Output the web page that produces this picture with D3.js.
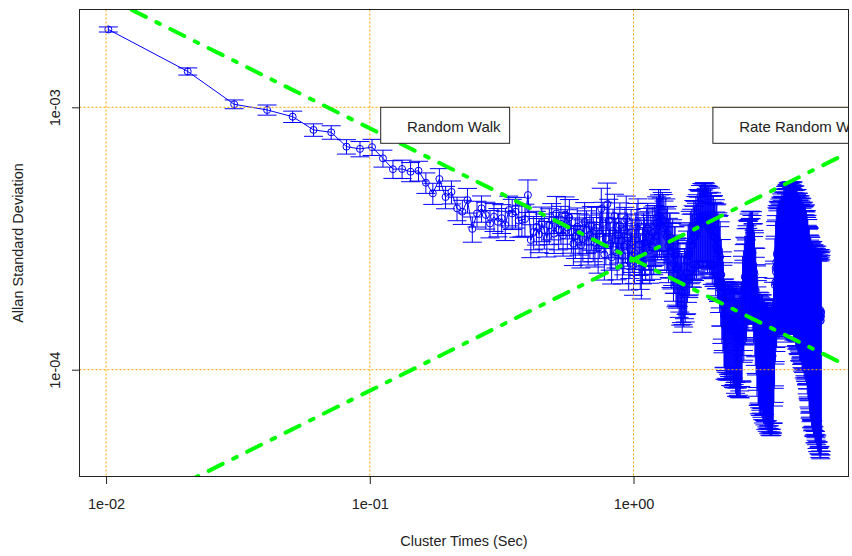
<!DOCTYPE html>
<html>
<head>
<meta charset="utf-8">
<script src="https://cdn.jsdelivr.net/npm/d3@7"></script>
<style>
  html, body { margin: 0; padding: 0; background: #fff; }
  svg { display: block; font-family: "Liberation Sans", Arial, Helvetica, sans-serif; }
</style>
</head>
<body>
<svg id="chart" width="852" height="556"></svg>
<script>
// Allan deviation of an inertial sensor record against cluster time.
const tau0 = 0.0102;       // sample period in seconds; cluster time = n * tau0
const sampleCount = 1012;  // number of samples in the record

// Allan deviation for cluster sizes n = 1, 2, 3, ... in units of 1e-4
const adevShort = [ // n = 1..40
  19.8, 13.7, 10.27, 9.77, 9.21, 8.20, 8.03, 7.08, 6.94, 7.05,
  6.39, 5.81, 5.82, 5.68, 5.73, 5.16, 4.70, 5.33, 4.55, 4.76,
  4.12, 4.00, 4.43, 3.44, 3.94, 4.12, 3.89, 3.61, 3.83, 3.66,
  3.78, 3.56, 4.06, 3.94, 4.00, 3.70, 3.72, 3.75, 4.63, 3.12
];
const adevMid = [ // n = 41..160
  3.35, 3.50, 3.28, 3.62, 3.40, 3.18, 3.55, 3.71, 3.30, 3.94,
  3.42, 3.60, 3.25, 3.90, 3.48, 3.80, 3.36, 3.02, 3.22, 3.51,
  3.33, 2.98, 3.15, 3.66, 3.40, 3.08, 3.27, 3.52, 3.19,
  3.05, 3.48, 2.90, 3.30, 4.10, 3.62, 2.75, 3.15, 4.27, 3.70,
  3.02, 2.68, 3.38, 3.85, 3.10, 2.80, 3.25,
  3.55, 3.10, 2.72, 2.95, 3.40, 3.75, 3.20, 2.60, 2.88, 3.32,
  3.05, 2.50, 2.78, 3.15, 3.48, 3.62, 3.00, 2.66, 2.45, 2.80,
  3.18, 3.05, 2.90, 3.30, 3.45, 3.20,
  2.85, 3.09, 2.96, 3.32, 3.09, 3.36, 3.23, 3.62, 3.55, 3.85,
  3.67, 3.84, 3.57, 3.74, 3.67, 3.46, 3.28, 3.52, 3.22, 3.29,
  2.96, 3.10, 3.09, 2.85, 2.82, 2.91, 2.54, 2.73, 2.73, 2.43,
  2.47, 2.41, 2.45,
  2.23, 2.34, 2.09, 2.14, 1.97, 2.11, 2.07, 2.23, 2.17, 2.32,
  2.34, 2.59, 2.75, 2.71, 2.78
];
const adevLong = [ // n = 161..335
  3.07, 2.99, 3.12, 2.99, 3.21, 3.36, 3.19, 3.33, 3.47, 3.27,
  3.52, 3.68, 3.44, 3.64, 3.62, 3.80, 3.62, 3.86, 3.64, 3.84,
  3.64, 3.88, 3.79, 3.85, 3.68, 3.77, 3.52, 3.74, 3.72, 3.54,
  3.42, 3.67, 3.43, 3.51, 3.23, 3.40, 3.42, 3.19, 3.20, 3.29,
  2.95, 3.14, 3.16, 2.87, 2.92, 2.83, 2.85, 2.58, 2.69, 2.30,
  2.30, 1.98, 2.06, 1.83, 1.87,
  1.61, 1.62, 1.46, 1.58, 1.56, 1.48, 1.46, 1.56, 1.47, 1.54,
  1.47, 1.52, 1.56, 1.41, 1.50, 1.56, 1.41, 1.50, 1.52, 1.40,
  1.44, 1.40, 1.47, 1.34, 1.48,
  1.31, 1.41, 1.31, 1.42, 1.33, 1.44, 1.31, 1.39, 1.31, 1.45,
  1.51, 1.53,
  1.52, 1.92, 1.81, 2.01, 1.85, 2.12, 2.26, 2.13, 2.24, 2.43,
  2.20, 2.49, 2.61, 2.43, 2.58, 2.61, 2.75, 2.62, 2.80, 2.64,
  2.81, 2.63, 2.80, 2.70, 2.79, 2.50, 2.51, 2.24, 2.36, 2.31,
  2.02, 1.86, 2.01, 1.74, 1.72, 1.43, 1.51, 1.55,
  1.33, 1.33, 1.36, 1.24, 1.31, 1.35, 1.23, 1.29, 1.26, 1.32,
  1.22, 1.32, 1.20, 1.25, 1.17, 1.26, 1.20, 1.27, 1.16, 1.20,
  1.12, 1.21, 1.21, 1.15, 1.11, 1.22, 1.14, 1.17, 1.10, 1.15,
  1.18, 1.09, 1.12, 1.15, 1.09, 1.13, 1.16, 1.10, 1.12, 1.13,
  1.23, 1.24, 1.44, 1.49, 1.69
];
const adevTail = [ // n = 336..505
  1.73, 2.10, 2.15, 2.44, 2.36, 2.57, 2.47, 2.75, 2.80, 2.72,
  2.67, 2.90, 2.78, 2.86, 2.72, 2.88, 2.95, 2.82, 2.87, 2.99,
  2.79, 2.97, 3.07, 2.89, 2.99, 3.00, 3.11, 2.95, 3.18, 2.97,
  3.10, 2.97, 3.18, 3.09, 3.25, 3.08, 3.18, 3.04, 3.26, 3.29,
  3.18, 3.14, 3.33, 3.24, 3.33, 3.16, 3.31, 3.34, 3.24, 3.29,
  3.33, 3.15, 3.33, 3.32, 3.17, 3.26, 3.22, 3.31, 3.14, 3.32,
  3.07, 3.19, 3.01, 3.19, 3.08, 3.19, 2.99, 3.07, 2.89, 3.07,
  3.08, 2.94, 2.86, 3.07, 2.90, 2.97, 2.78, 2.90, 2.96, 2.78,
  2.81, 2.89, 2.66, 2.83, 2.88, 2.67, 2.75, 2.72, 2.80, 2.63,
  2.81, 2.57, 2.69, 2.51, 2.69, 2.59, 2.70, 2.51, 2.59, 2.41,
  2.60, 2.62, 2.48, 2.40, 2.62,
  2.38, 2.46, 2.49, 2.34, 2.34, 2.38, 2.18, 2.29, 2.29, 2.11,
  2.15, 2.10, 2.13, 1.99, 2.11, 1.90, 1.98, 1.83, 1.95, 1.86,
  1.94, 1.80, 1.84, 1.72, 1.84, 1.86, 1.75, 1.70, 1.86, 1.74,
  1.79, 1.65, 1.74, 1.80, 1.66, 1.69, 1.76, 1.59, 1.72, 1.77,
  1.61, 1.69, 1.66, 1.73, 1.61, 1.76, 1.57, 1.67, 1.54, 1.68,
  1.60, 1.70, 1.57, 1.62, 1.55, 1.65, 1.67, 1.57, 1.53, 1.69,
  1.58, 1.64, 1.54, 1.60, 1.66
];

// Axis ticks
const xTicks = [0.01, 0.1, 1];
const xTickLabels = ["1e-02", "1e-01", "1e+00"];
const yTicks = [1e-3, 1e-4];
const yTickLabels = ["1e-03", "1e-04"];

// Noise-model reference lines
const angleRandomWalk = 2.63e-4;   // N: sigma = N / sqrt(tau)
const rateRandomWalk = 4.555e-4;   // K: sigma = K * sqrt(tau / 3)
const refLineEndTau = 6.0;
const legendLabels = ["Random Walk", "Rate Random Walk"];
const legendTau = [0.11, 2.0];
const legendSigma = 1e-3;

// ---- layout -------------------------------------------------------------
const W = 852, H = 556;
const plot = { left: 79.5, right: 848.5, top: 9.5, bottom: 476.5 };
const fontSize = 14.5;
const legendFontSize = 15;
const textColor = "#222";
const capHalf = 9.5;

const svg = d3.select("#chart");

const x = d3.scaleLog().domain([7.93e-3, 6.535]).range([plot.left, plot.right]);
const y = d3.scaleLog().domain([3.917e-5, 2.359e-3]).range([plot.bottom, plot.top]);

// ---- data ---------------------------------------------------------------
const adev = [].concat(adevShort, adevMid, adevLong, adevTail).map(v => v * 1e-4);
const points = adev.map((s, i) => {
  const n = i + 1;
  const err = 1 / Math.sqrt(2 * (sampleCount / n - 1));
  return { tau: n * tau0, s: s, lo: s * (1 - err), hi: s * (1 + err) };
});

svg.append("rect").attr("width", W).attr("height", H).attr("fill", "#fff");

svg.append("defs").append("clipPath").attr("id", "plot-clip")
  .append("rect")
  .attr("x", plot.left).attr("y", plot.top)
  .attr("width", plot.right - plot.left).attr("height", plot.bottom - plot.top);

const inner = svg.append("g").attr("clip-path", "url(#plot-clip)");

// connecting line
inner.append("path")
  .datum(points)
  .attr("fill", "none")
  .attr("stroke", "#0000ff")
  .attr("stroke-width", 1)
  .attr("d", d3.line().x(d => x(d.tau)).y(d => y(d.s)));

// points
inner.append("g").selectAll("circle")
  .data(points).join("circle")
  .attr("cx", d => x(d.tau))
  .attr("cy", d => y(d.s))
  .attr("r", 3.5)
  .attr("fill", "none")
  .attr("stroke", "#0000ff")
  .attr("stroke-width", 1);

// error bars with flat caps
inner.append("g").selectAll("path")
  .data(points).join("path")
  .attr("fill", "none")
  .attr("stroke", "#0000ff")
  .attr("stroke-width", 1)
  .attr("d", d => {
    const cx = x(d.tau), yl = y(d.lo), yh = y(d.hi);
    return `M${cx},${yl}V${yh}M${cx - capHalf},${yl}H${cx + capHalf}M${cx - capHalf},${yh}H${cx + capHalf}`;
  });

// grid
const grid = inner.append("g")
  .attr("stroke", "#ffa500")
  .attr("stroke-width", 1)
  .attr("stroke-dasharray", "2 2");
grid.selectAll("line.gx").data(xTicks).join("line")
  .attr("class", "gx")
  .attr("x1", d => x(d)).attr("x2", d => x(d))
  .attr("y1", plot.top).attr("y2", plot.bottom);
grid.selectAll("line.gy").data(yTicks).join("line")
  .attr("class", "gy")
  .attr("y1", d => y(d)).attr("y2", d => y(d))
  .attr("x1", plot.left).attr("x2", plot.right);

// noise-model lines
const tauStart = x.domain()[0];
const refLines = [
  t => angleRandomWalk / Math.sqrt(t),
  t => rateRandomWalk * Math.sqrt(t / 3)
];
inner.append("g").selectAll("path")
  .data(refLines).join("path")
  .attr("fill", "none")
  .attr("stroke", "#00ff00")
  .attr("stroke-width", 4)
  .attr("stroke-linecap", "round")
  .attr("stroke-dasharray", "3.9 11.7 15.6 11.7")
  .attr("d", f => d3.line()([[x(tauStart), y(f(tauStart))], [x(refLineEndTau), y(f(refLineEndTau))]]));

// legends (clipped to the plot region like the other marks)
const legendG = inner.append("g");
legendLabels.forEach((label, i) => {
  const lx = x(legendTau[i]), ly = y(legendSigma);
  const g = legendG.append("g");
  const box = g.append("rect")
    .attr("x", lx).attr("y", ly).attr("height", 36)
    .attr("fill", "#fff").attr("stroke", textColor).attr("stroke-width", 1);
  const t = g.append("text")
    .attr("x", lx + 26.3).attr("y", ly + 24.4)
    .attr("font-size", legendFontSize).attr("fill", textColor)
    .text(label);
  box.attr("width", 26.3 + t.node().getComputedTextLength() + 9);
});

// ---- axes ---------------------------------------------------------------
const xAxis = svg.append("g")
  .attr("transform", `translate(0,${plot.bottom})`)
  .call(d3.axisBottom(x).tickValues(xTicks).tickFormat((d, i) => xTickLabels[i])
    .tickSize(7.5).tickSizeOuter(0));
xAxis.select(".domain").remove();
xAxis.selectAll(".tick line").attr("stroke", textColor);
xAxis.selectAll(".tick text")
  .attr("y", 32.5).attr("dy", null)
  .attr("font-size", fontSize).attr("font-family", null).attr("fill", textColor);

const yAxis = svg.append("g")
  .attr("transform", `translate(${plot.left},0)`)
  .call(d3.axisLeft(y).tickValues(yTicks).tickFormat((d, i) => yTickLabels[i])
    .tickSize(7.5).tickSizeOuter(0));
yAxis.select(".domain").remove();
yAxis.selectAll(".tick line").attr("stroke", textColor);
yAxis.selectAll(".tick text")
  .attr("x", null).attr("dy", null)
  .attr("text-anchor", "middle")
  .attr("transform", "translate(-19.5,0) rotate(-90)")
  .attr("font-size", fontSize).attr("font-family", null).attr("fill", textColor);

// plot frame
svg.append("rect")
  .attr("x", plot.left).attr("y", plot.top)
  .attr("width", plot.right - plot.left).attr("height", plot.bottom - plot.top)
  .attr("fill", "none").attr("stroke", textColor).attr("stroke-width", 1);

// axis titles
svg.append("text")
  .attr("x", (plot.left + plot.right) / 2).attr("y", 545.7)
  .attr("text-anchor", "middle").attr("font-size", fontSize).attr("fill", textColor)
  .text("Cluster Times (Sec)");
svg.append("text")
  .attr("transform", `translate(23.3,${(plot.top + plot.bottom) / 2}) rotate(-90)`)
  .attr("text-anchor", "middle").attr("font-size", fontSize).attr("fill", textColor)
  .text("Allan Standard Deviation");
</script>
</body>
</html>
